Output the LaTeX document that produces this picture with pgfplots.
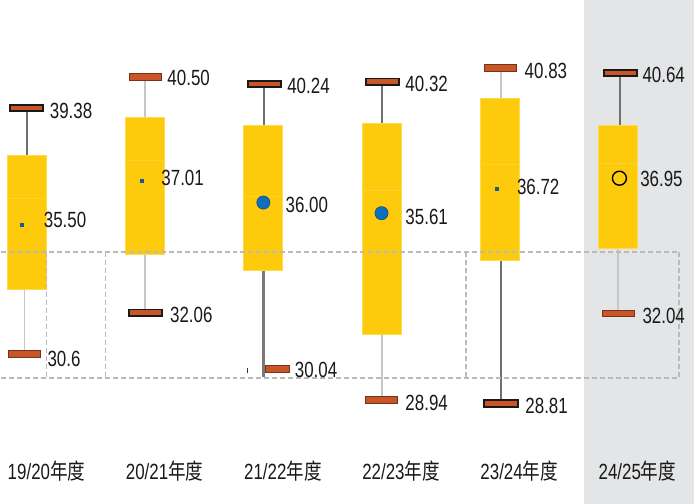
\documentclass[border=0pt]{standalone}
\usepackage{pgfplots}
\pgfplotsset{compat=1.18}
\usepackage{fontspec}
\setmainfont{Liberation Sans}[FakeStretch=0.77]
\newfontfamily\cjk{Noto Sans CJK SC}[FakeStretch=0.80]
\definecolor{boxc}{RGB}{253,203,11}
\definecolor{boxb}{RGB}{255,218,75}
\definecolor{medc}{RGB}{252,210,45}
\definecolor{capc}{RGB}{201,86,40}
\definecolor{capd}{RGB}{120,50,20}
\definecolor{wdark}{RGB}{112,112,112}
\definecolor{wlight}{RGB}{198,198,198}
\definecolor{meanb}{RGB}{14,110,190}
\definecolor{meand}{RGB}{25,75,120}
\definecolor{sqb}{RGB}{25,90,150}
\definecolor{band}{RGB}{228,229,231}
\definecolor{dashc}{RGB}{186,186,186}
\definecolor{txt}{RGB}{25,25,25}
\pgfdeclareplotmark{capframed}{\pgfpathrectangle{\pgfpoint{-16.6pt}{-3.2pt}}{\pgfpoint{33.2pt}{6.4pt}}\pgfusepathqfillstroke}
\pgfdeclareplotmark{capplain}{\pgfpathrectangle{\pgfpoint{-16pt}{-3.4pt}}{\pgfpoint{32pt}{6.8pt}}\pgfusepathqfillstroke}
\pgfdeclareplotmark{capshort}{\pgfpathrectangle{\pgfpoint{-12pt}{-3.4pt}}{\pgfpoint{24pt}{6.8pt}}\pgfusepathqfillstroke}
\begin{document}
\begin{tikzpicture}[lab/.style={anchor=west, inner sep=0pt, font=\fontsize{22}{26}\selectfont, text=txt}]
\begin{axis}[width=696pt, height=504pt, scale only axis, axis on top,
  xmin=-0.2223, xmax=5.661, ymin=25.234, ymax=43.24, clip=false,
  axis line style={draw=none}, ytick=\empty, xtick={0,1,2,3,4,5}, major tick length=0pt,
  xticklabels={{19/20{\cjk 年度}},{20/21{\cjk 年度}},{21/22{\cjk 年度}},{22/23{\cjk 年度}},{23/24{\cjk 年度}},{24/25{\cjk 年度}}},
  xticklabel style={anchor=center, xshift=19.5pt, yshift=33pt, font=\fontsize{22}{26}\selectfont, text=txt}]
\path (rel axis cs:0,0) rectangle (rel axis cs:1,1);
\fill[band] (axis cs:4.714,25.234) rectangle (axis cs:5.644,43.24);
% whiskers
\addplot[wdark, line width=1.6pt] coordinates {(0,37.70) (0,39.38)};
\addplot[wlight, line width=1.6pt] coordinates {(-0.02,32.90) (-0.02,30.6)};
\addplot[wlight, line width=1.6pt] coordinates {(1,39.05) (1,40.50)};
\addplot[wlight, line width=1.6pt] coordinates {(1,34.13) (1,32.06)};
\addplot[wdark, line width=1.6pt] coordinates {(2.003,38.75) (2.003,40.24)};
\addplot[black!52, line width=3pt] coordinates {(2.003,34.20) (2.003,29.77)};
\addplot[wdark, line width=1.6pt] coordinates {(3.004,38.84) (3.004,40.32)};
\addplot[wlight, line width=1.6pt] coordinates {(3.004,31.27) (3.004,28.94)};
\addplot[wlight, line width=1.6pt] coordinates {(4.01,39.73) (4.01,40.83)};
\addplot[wdark, line width=1.6pt] coordinates {(4.01,33.93) (4.01,28.81)};
\addplot[wdark, line width=1.6pt] coordinates {(5.019,38.77) (5.019,40.64)};
\addplot[wlight, line width=1.6pt] coordinates {(5.0,34.37) (5.0,32.04)};
\draw[black!80, line width=1.2pt] (axis cs:1.863,29.91) -- (axis cs:1.863,30.09);
% boxes
\addplot[fill=boxc, draw=boxb, line width=0.8pt] coordinates {(-0.165,32.90) (0.165,32.90) (0.165,37.70) (-0.165,37.70)} -- cycle;
\addplot[fill=boxc, draw=boxb, line width=0.8pt] coordinates {(0.835,34.13) (1.165,34.13) (1.165,39.05) (0.835,39.05)} -- cycle;
\addplot[fill=boxc, draw=boxb, line width=0.8pt] coordinates {(1.830,33.59) (2.165,33.59) (2.165,38.75) (1.830,38.75)} -- cycle;
\addplot[fill=boxc, draw=boxb, line width=0.8pt] coordinates {(2.835,31.27) (3.165,31.27) (3.165,38.84) (2.835,38.84)} -- cycle;
\addplot[fill=boxc, draw=boxb, line width=0.8pt] coordinates {(3.835,33.93) (4.165,33.93) (4.165,39.73) (3.835,39.73)} -- cycle;
\addplot[fill=boxc, draw=boxb, line width=0.8pt] coordinates {(4.835,34.37) (5.165,34.37) (5.165,38.77) (4.835,38.77)} -- cycle;
% medians
\addplot[medc, line width=0.8pt] coordinates {(-0.165,36.13) (0.165,36.13)};
\addplot[medc, line width=0.8pt] coordinates {(0.835,37.52) (1.165,37.52)};
\addplot[medc, line width=0.8pt] coordinates {(1.830,36.21) (2.165,36.21)};
\addplot[medc, line width=0.8pt] coordinates {(2.835,36.45) (3.165,36.45)};
\addplot[medc, line width=0.8pt] coordinates {(3.835,37.38) (4.165,37.38)};
\addplot[medc, line width=0.8pt] coordinates {(4.835,37.41) (5.165,37.41)};
% dashed frame
\draw[dashc, line width=1.5pt, dash pattern=on 5pt off 3pt]
  (axis cs:-0.2223,34.238) -- (axis cs:5.517,34.238)
  (axis cs:-0.2223,29.718) -- (axis cs:5.517,29.718)
  (axis cs:0.164,34.238) -- (axis cs:0.164,29.718)
  (axis cs:0.665,34.238) -- (axis cs:0.665,29.718)
  (axis cs:3.714,34.238) -- (axis cs:3.714,29.718)
  (axis cs:5.517,34.238) -- (axis cs:5.517,29.718);
% caps
\addplot[only marks, mark=capframed, mark options={fill=capc, draw=black!90, line width=1.9pt}] coordinates {(-0.004,39.38) (1.002,32.06) (2.007,40.24) (3.007,40.32) (4.011,28.81) (5.019,40.64)};
\addplot[only marks, mark=capplain, mark options={fill=capc, draw=capd, line width=0.7pt}] coordinates {(-0.021,30.6) (1.003,40.50) (3.0,28.94) (4.003,40.83) (5.002,32.04)};
\addplot[only marks, mark=capshort, mark options={fill=capc, draw=capd, line width=0.7pt}] coordinates {(2.121,30.04)};
% means
\addplot[only marks, mark=square*, mark size=1.6pt, color=sqb] coordinates {(-0.047,35.20) (0.968,36.77) (3.976,36.49)};
\addplot[only marks, mark=*, mark size=6.6pt, mark options={fill=meanb, draw=meand, line width=0.6pt}] coordinates {(2.0,36.00) (3.0,35.62)};
\addplot[only marks, mark=o, mark size=7pt, mark options={draw=black, line width=1.4pt}] coordinates {(5.013,36.87)};
% labels
\node[lab] at (axis cs:0.141,35.38) {35.50};
\node[lab] at (axis cs:1.136,36.88) {37.01};
\node[lab] at (axis cs:2.187,35.92) {36.00};
\node[lab] at (axis cs:3.201,35.50) {35.61};
\node[lab] at (axis cs:4.145,36.57) {36.72};
\node[lab] at (axis cs:5.188,36.83) {36.95};
\node[lab, yshift=-2.5pt] at (axis cs:0.192,39.38) {39.38};
\node[lab, yshift=-5pt] at (axis cs:0.172,30.6) {30.6};
\node[lab, yshift=-1pt] at (axis cs:1.187,40.50) {40.50};
\node[lab, yshift=-2.5pt] at (axis cs:1.209,32.06) {32.06};
\node[lab, yshift=-2pt] at (axis cs:2.201,40.24) {40.24};
\node[lab, yshift=-1pt] at (axis cs:2.265,30.04) {30.04};
\node[lab, yshift=-2.5pt] at (axis cs:3.201,40.32) {40.32};
\node[lab, yshift=-3pt] at (axis cs:3.201,28.94) {28.94};
\node[lab, yshift=-3pt] at (axis cs:4.210,40.83) {40.83};
\node[lab, yshift=-2.5pt] at (axis cs:4.216,28.81) {28.81};
\node[lab, yshift=-2pt] at (axis cs:5.207,40.64) {40.64};
\node[lab, yshift=-3pt] at (axis cs:5.207,32.04) {32.04};
\end{axis}
\end{tikzpicture}
\end{document}
